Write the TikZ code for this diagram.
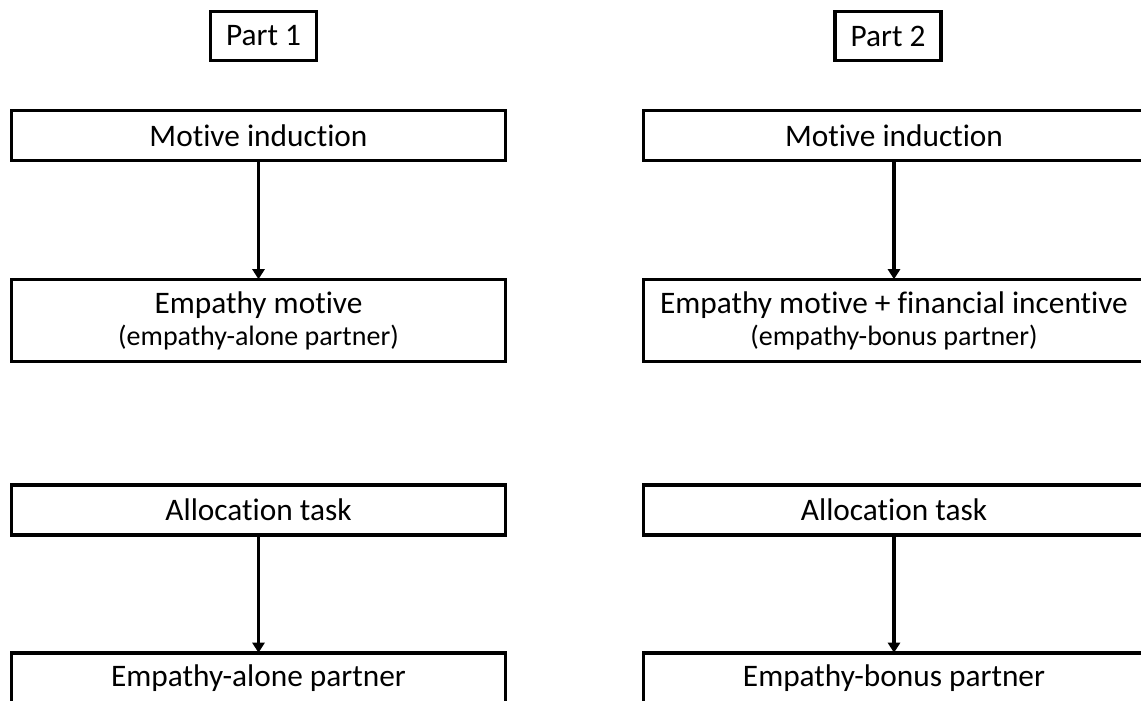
\documentclass[tikz,border=0pt]{standalone}
\usepackage{fontspec}
\setmainfont{Carlito}[Ligatures=NoCommon]
\usetikzlibrary{arrows.meta,positioning}

\begin{document}
\begin{tikzpicture}[x=0.75pt,y=-0.75pt,>={Triangle[width=9pt,length=7.5pt]},line width=2.4pt]
  \useasboundingbox (0,0) rectangle (1141,700);
  \tikzset{
    stageBox/.style={rectangle,draw=black,minimum width=370.5pt,minimum height=37.5pt,
      align=center,font=\fontsize{23.5}{24}\selectfont},
    stageBoxR/.style={stageBox,minimum width=375.75pt},
    motiveBox/.style={minimum height=61.5pt},
    partBox/.style={rectangle,draw=black,minimum width=79.5pt,minimum height=36.75pt,
      font=\fontsize{23.5}{24}\selectfont},
    % edge styles
    pre/.style={<-,shorten <=-1pt},
    % distances
    stepOne/.style={node distance=138.75pt},
    stepTwo/.style={node distance=142.125pt},
    stepThree/.style={node distance=126pt},
    partDist/.style={node distance=74.625pt}
  }
  \newcommand{\subline}[1]{{\fontsize{21}{24}\selectfont #1}}

  %% Part 1
  \node [stageBox] (mi1) at (258.5,135.5) {Motive induction};
  \node [stageBox, motiveBox, stepOne] (em1) [below of=mi1]
    {Empathy motive\\\subline{(empathy-alone partner)}}
    edge [pre] (mi1);
  \node [stageBox, stepTwo] (at1) [below of=em1] {Allocation task};
  \node [stageBox, stepThree] (pt1) [below of=at1] {Empathy-alone partner}
    edge [pre] (at1);
  \node [partBox, partDist, xshift=3.75pt] (part1) [above of=mi1] {Part 1};

  %% Part 2
  \node [stageBoxR, node distance=476.625pt] (mi2) [right of=mi1] {Motive induction};
  \node [stageBoxR, motiveBox, stepOne] (em2) [below of=mi2]
    {Empathy motive + financial incentive\\\subline{(empathy-bonus partner)}}
    edge [pre] (mi2);
  \node [stageBoxR, stepTwo] (at2) [below of=em2] {Allocation task};
  \node [stageBoxR, stepThree] (pt2) [below of=at2] {Empathy-bonus partner}
    edge [pre] (at2);
  \node [partBox, partDist, xshift=-4.5pt] (part2) [above of=mi2] {Part 2};

\end{tikzpicture}
\end{document}
